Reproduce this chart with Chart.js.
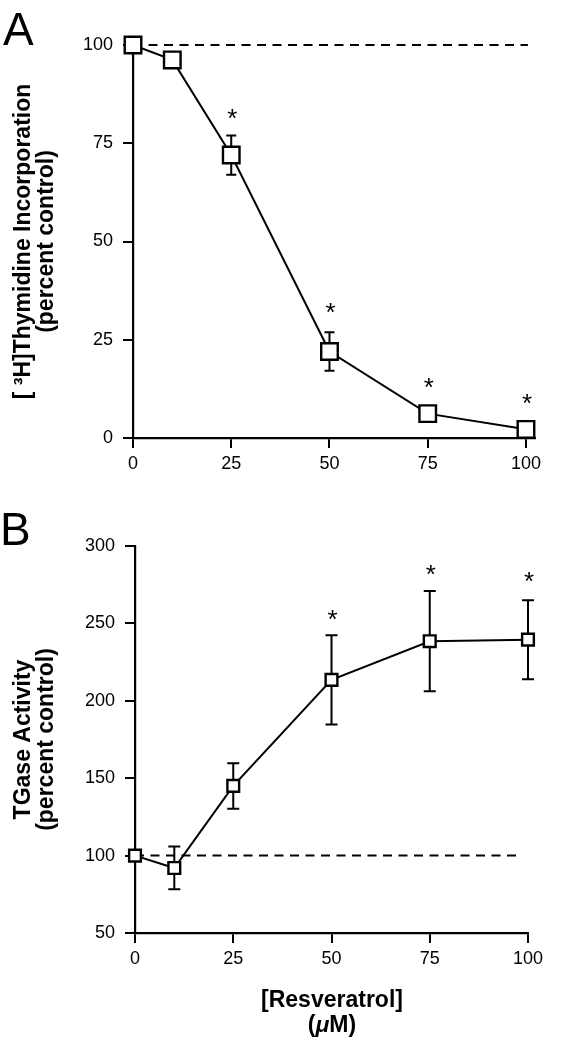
<!DOCTYPE html>
<html>
<head>
<meta charset="utf-8">
<script src="https://cdn.jsdelivr.net/npm/chart.js@4.4.1/dist/chart.umd.min.js"></script>
<style>
  body { margin: 0; background: #fff; width: 561px; height: 1050px; position: relative; overflow: hidden;
         font-family: 'Liberation Sans', Arial, Helvetica, sans-serif; color: #000; }
  canvas { position: absolute; left: 0; }
  #chartA { top: 0; }
  #chartB { top: 500px; }
  .panel { position: absolute; font-size: 46px; line-height: 46px; }
  #xTitle { position: absolute; left: 232px; width: 200px; top: 987px; text-align: center;
            font-weight: bold; font-size: 23px; line-height: 25px; }
</style>
</head>
<body>
<canvas id="chartA" width="561" height="500"></canvas>
<canvas id="chartB" width="561" height="550"></canvas>
<div class="panel" style="left:3px; top:6px;">A</div>
<div class="panel" style="left:0px; top:506px;">B</div>
<div id="xTitle">[Resveratrol]<br>(<i>μ</i>M)</div>
<script>
// resveratrol doses (µM)
const doses = [0, 10, 25, 50, 75, 100];
const doseTicks = [0, 25, 50, 75, 100];
const controlLevel = 100;

// panel A - [3H]thymidine incorporation, percent of control
const thymidineMean = [100, 96.2, 72, 22, 6.2, 2.2];
const thymidineSem = [0, 0, 5, 4.9, 0, 0];
const thymidineTicks = [0, 25, 50, 75, 100];
const thymidineStarDose = [25, 50, 75, 100];
const thymidineStarY = [83, 33.6, 14.5, 10.5];

// panel B - TGase activity, percent of control
const tgaseMean = [100, 92, 145, 213.5, 238.5, 239.5];
const tgaseSem = [0, 13.8, 14.7, 28.8, 32.4, 25.5];
const tgaseTicks = [50, 100, 150, 200, 250, 300];
const tgaseStarDose = [50, 75, 100];
const tgaseStarY = [256.4, 285.8, 281.1];

Chart.defaults.font.family = "'Liberation Sans', Arial, Helvetica, sans-serif";
Chart.defaults.color = '#000';

// error bars (under the markers) and significance stars
const errorBarPlugin = {
    id: 'errorBars',
    beforeDatasetsDraw(chart, args, opts) {
        const ctx = chart.ctx;
        const xs = chart.scales.x, ys = chart.scales.y;
        ctx.save();
        ctx.strokeStyle = '#000';
        ctx.lineWidth = 2;
        opts.mean.forEach((m, i) => {
            const e = opts.sem[i];
            if (!e) return;
            const px = xs.getPixelForValue(doses[i]);
            const top = ys.getPixelForValue(m + e);
            const bot = ys.getPixelForValue(m - e);
            const h = opts.cap / 2;
            ctx.beginPath();
            ctx.moveTo(px, top); ctx.lineTo(px, bot);
            ctx.moveTo(px - h, top); ctx.lineTo(px + h, top);
            ctx.moveTo(px - h, bot); ctx.lineTo(px + h, bot);
            ctx.stroke();
        });
        ctx.restore();
    },
    afterDatasetsDraw(chart, args, opts) {
        const ctx = chart.ctx;
        const xs = chart.scales.x, ys = chart.scales.y;
        const size = 26;
        ctx.save();
        ctx.fillStyle = '#000';
        ctx.font = size + "px 'Liberation Sans', Arial, sans-serif";
        ctx.textAlign = 'center';
        ctx.textBaseline = 'alphabetic';
        opts.starDose.forEach((d, i) => {
            ctx.fillText('*', xs.getPixelForValue(d) + 1, ys.getPixelForValue(opts.starY[i]) + size * 0.57);
        });
        ctx.restore();
    }
};

function panelChart(id, o) {
    const axisGrid = { display: true, drawOnChartArea: false, drawTicks: true, tickLength: 10, color: '#000', lineWidth: 2 };
    const axisBorder = { display: true, color: '#000', width: 2.2 };
    return new Chart(document.getElementById(id), {
        type: 'line',
        data: {
            datasets: [{
                data: doses.map((d, i) => ({ x: d, y: o.mean[i] })),
                borderColor: '#000',
                borderWidth: 2,
                tension: 0,
                pointStyle: 'rect',
                pointRadius: o.r,
                pointBorderWidth: 2.4,
                pointBorderColor: '#000',
                pointBackgroundColor: '#fff',
                clip: false
            }, {
                // control level
                data: [{ x: 0, y: controlLevel }, { x: o.dashEnd, y: controlLevel }],
                borderColor: '#000',
                borderWidth: 2,
                borderDash: [9, 6.5],
                pointRadius: 0,
                clip: false
            }]
        },
        options: {
            responsive: false,
            animation: false,
            events: [],
            layout: { padding: o.pad },
            plugins: {
                legend: { display: false },
                tooltip: { enabled: false },
                errorBars: { mean: o.mean, sem: o.sem, cap: o.cap, starDose: o.starDose, starY: o.starY }
            },
            scales: {
                x: {
                    type: 'linear',
                    min: 0,
                    max: o.xMax,
                    afterBuildTicks: s => { s.ticks = doseTicks.map(v => ({ value: v })); },
                    afterFit: s => { s.height = o.xH; },
                    grid: axisGrid,
                    border: axisBorder,
                    ticks: { font: { size: 18 }, padding: 5, maxRotation: 0, color: '#000' }
                },
                y: {
                    type: 'linear',
                    min: o.yTicks[0],
                    max: o.yTicks[o.yTicks.length - 1],
                    afterBuildTicks: s => { s.ticks = o.yTicks.map(v => ({ value: v })); },
                    afterFit: s => { s.width = o.yW; },
                    grid: axisGrid,
                    border: axisBorder,
                    ticks: { font: { size: 18 }, padding: 10, color: '#000' },
                    title: {
                        display: true,
                        text: o.title,
                        color: '#000',
                        font: { size: 23, weight: 'bold', lineHeight: 1.0 },
                        padding: { top: 12, bottom: 0 }
                    }
                }
            }
        },
        plugins: [errorBarPlugin]
    });
}

panelChart('chartA', {
    mean: thymidineMean, sem: thymidineSem, yTicks: thymidineTicks,
    starDose: thymidineStarDose, starY: thymidineStarY,
    title: ['[ ³H]Thymidine Incorporation', '(percent control)'],
    r: 11.7, cap: 10, dashEnd: 100.5, xMax: 102.3,
    yW: 133, xH: 62, pad: { left: 0, right: 26, top: 45, bottom: 0 }
});

panelChart('chartB', {
    mean: tgaseMean, sem: tgaseSem, yTicks: tgaseTicks,
    starDose: tgaseStarDose, starY: tgaseStarY,
    title: ['TGase Activity', '(percent control)'],
    r: 8.3, cap: 12, dashEnd: 98, xMax: 100,
    yW: 135, xH: 117, pad: { left: 0, right: 33, top: 46, bottom: 0 }
});
</script>
</body>
</html>
